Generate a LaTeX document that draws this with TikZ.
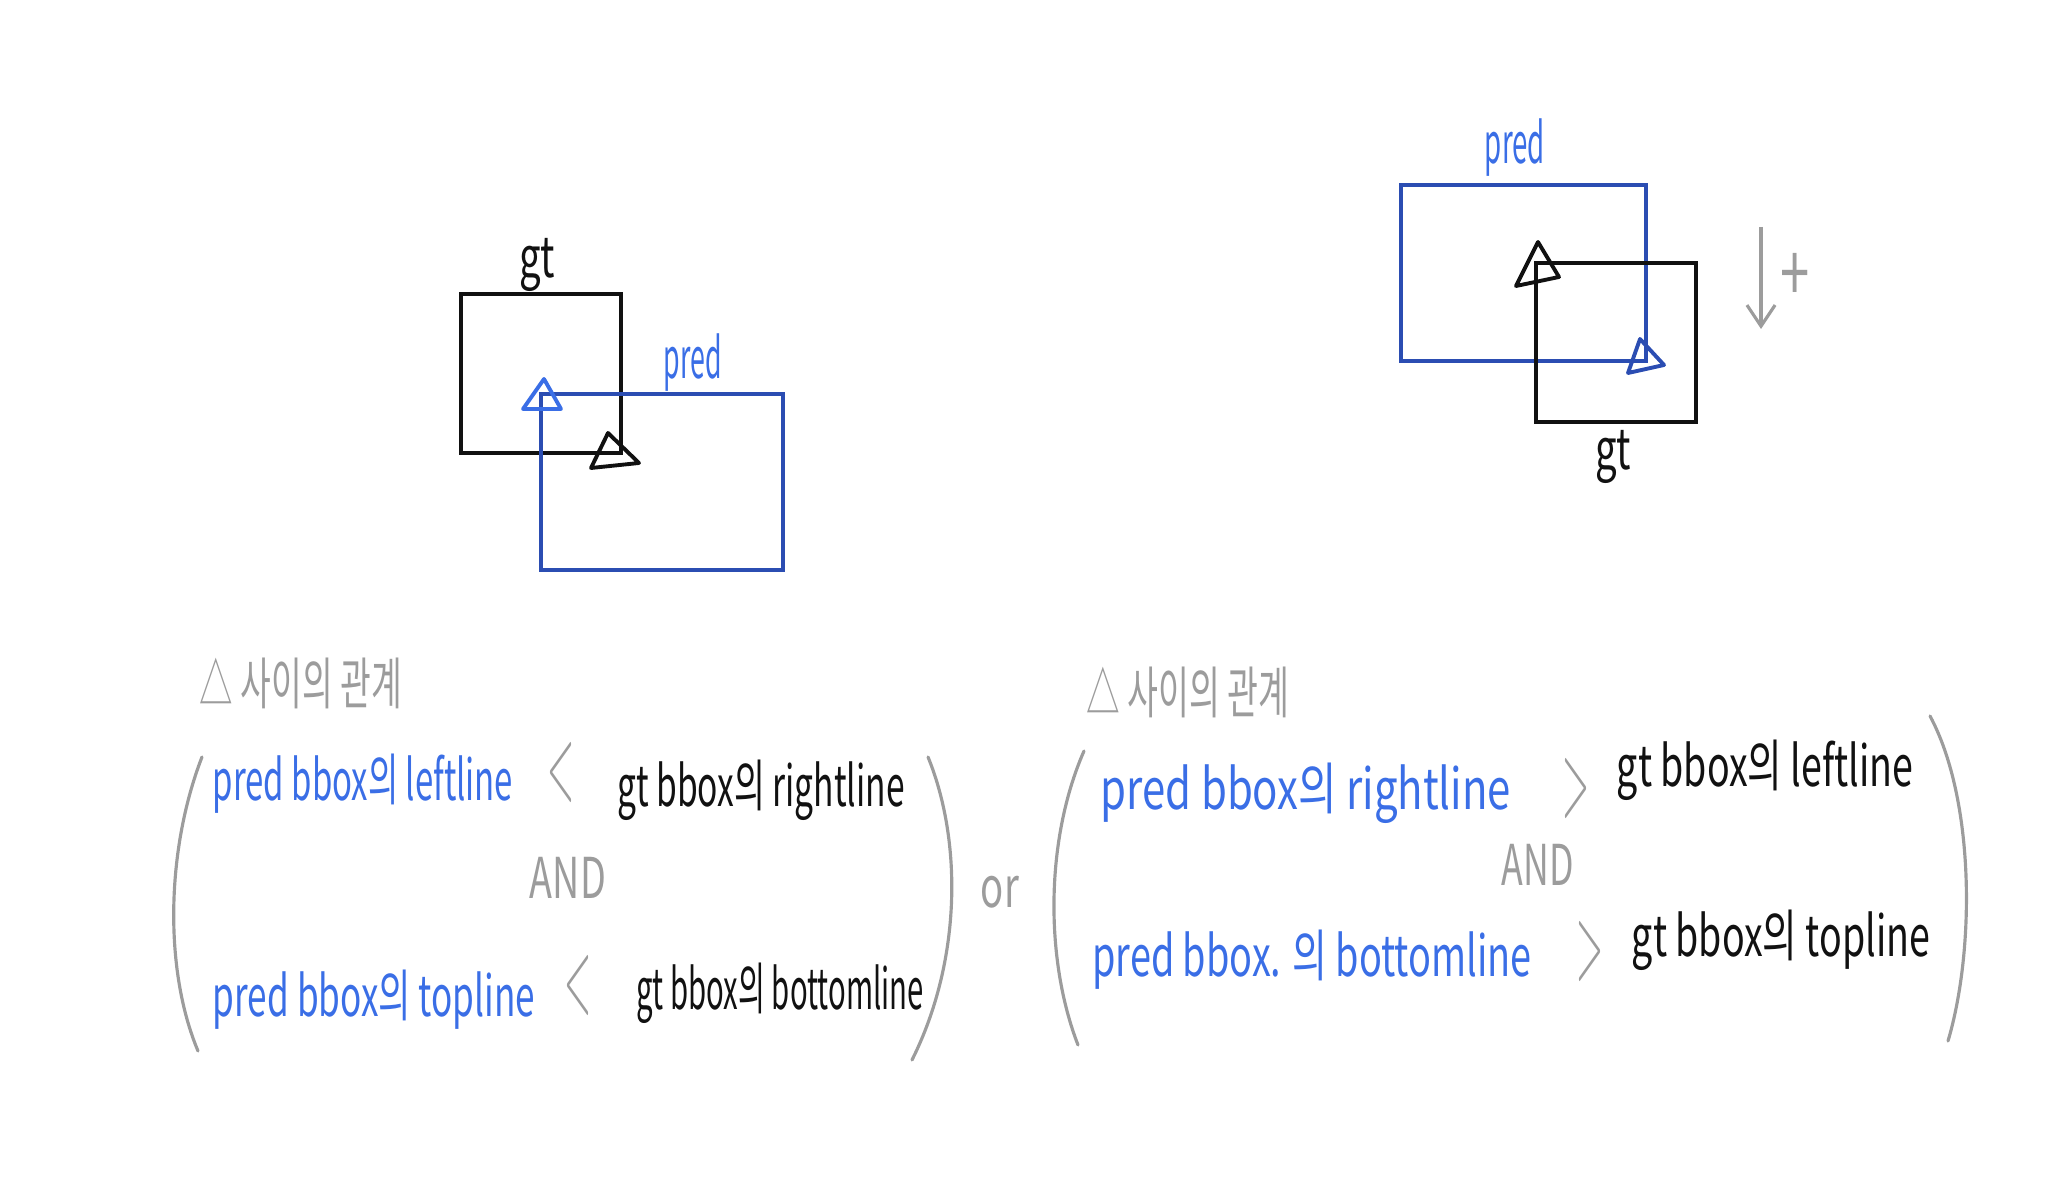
\documentclass[tikz,border=0pt]{standalone}
\usepackage{fontspec}
\setmainfont{Noto Sans CJK KR}
\usepackage{xcolor}
\usetikzlibrary{arrows.meta}
\definecolor{predblue}{HTML}{3A6EE6}
\definecolor{boxblue}{HTML}{2B4DB2}
\definecolor{ink}{HTML}{111111}
\definecolor{pencil}{HTML}{9C9C9C}
\newcommand{\squeeze}[1]{\scalebox{0.68}[1]{#1}}
\newcommand{\handw}[2]{\resizebox{#1}{\height}{#2}}
\newcommand{\cmpsign}[1]{\resizebox{0.27cm}{0.56cm}{$#1$}}

\begin{document}
\begin{tikzpicture}[
    x=0.01cm,y=-0.01cm,
    hand/.style={inner sep=0pt,font=\fontsize{16}{18}\selectfont},
    predtxt/.style={hand,text=predblue},
    gttxt/.style={hand,text=ink},
    note/.style={hand,text=pencil},
    cmp/.style={inner sep=0pt,text=pencil},
    gtline/.style={draw=ink,line width=1.1pt},
    predline/.style={draw=boxblue,line width=1.1pt},
    tri/.style={line width=1.1pt,line join=round,line cap=round},
    paren/.style={draw=pencil,line width=0.9pt,line cap=round},
    arrow/.style={-{Straight Barb[length=6pt,width=8pt]},draw=pencil,line width=0.9pt}
  ]
  \useasboundingbox (0,0) rectangle (2048,1198);
  % case 1: pred overlaps gt from lower right
  \draw[gtline] (461,294) rectangle (621,453);
  \draw[predline] (541,394) rectangle (783,570);
  \draw[tri,predblue] (544,379) -- (561,409) -- (523,409) -- cycle;
  \draw[tri,ink] (608,433) -- (639,463) -- (591,468) -- cycle;
  \node[gttxt] (gtA) at (537,265) {\squeeze{gt}};
  \node[predtxt] (predA) at (693,363) {\handw{0.58cm}{pred}};
  % case 2: pred overlaps gt from upper left
  \draw[predline] (1401,185) rectangle (1646,361);
  \draw[gtline] (1536,263) rectangle (1696,422);
  \draw[tri,ink] (1538,242) -- (1559,277) -- (1516,286) -- cycle;
  \draw[tri,boxblue] (1640,339) -- (1664,365) -- (1628,373) -- cycle;
  \node[predtxt] (predB) at (1515,148) {\handw{0.6cm}{pred}};
  \node[gttxt] (gtB) at (1613,457) {\squeeze{gt}};
  \coordinate (ytop) at (1761,227);
  \coordinate (ybot) at (1761,329);
  \draw[arrow] (ytop) -- (ybot);
  \node[note,font=\fontsize{22}{22}\selectfont] (plus) at (1795,277) {\squeeze{+}};
  % condition 1
  \node[note] (relA) at (301,683) {\handw{2.02cm}{△ 사이의 관계}};
  \node[predtxt] (leftA) at (363,784) {\handw{3.0cm}{pred bbox의 leftline}};
  \node[cmp] (ltA) at (561,773) {\cmpsign{<}};
  \node[gttxt] (rightA) at (761,790) {\handw{2.87cm}{gt bbox의 rightline}};
  \node[note] (andA) at (568,878) {\handw{0.76cm}{AND}};
  \node[predtxt] (topA) at (374,1000) {\handw{3.22cm}{pred bbox의 topline}};
  \node[cmp] (ltB) at (578,986) {\cmpsign{<}};
  \node[gttxt] (bottomA) at (780,993) {\handw{2.87cm}{gt bbox의 bottomline}};
  \draw[paren] (202,757) .. controls (166,850) and (164,970) .. (198,1051);
  \draw[paren] (928,757) .. controls (962,840) and (962,960) .. (912,1060);
  \node[note] (or) at (1000,892) {\squeeze{or}};
  % condition 2
  \node[note] (relB) at (1188,692) {\handw{2.03cm}{△ 사이의 관계}};
  \node[predtxt] (rightB) at (1306,793) {\handw{4.1cm}{pred bbox의 rightline}};
  \node[cmp] (gtC) at (1576,789) {\cmpsign{>}};
  \node[gttxt] (leftB) at (1765,770) {\handw{2.96cm}{gt bbox의 leftline}};
  \node[note] (andB) at (1538,865) {\handw{0.72cm}{AND}};
  \node[predtxt] (bottomB) at (1312,960) {\handw{4.39cm}{pred bbox. 의 bottomline}};
  \node[cmp] (gtD) at (1590,952) {\cmpsign{>}};
  \node[gttxt] (topB) at (1781,940) {\handw{2.98cm}{gt bbox의 topline}};
  \draw[paren] (1084,751) .. controls (1045,840) and (1045,960) .. (1078,1045);
  \draw[paren] (1930,716) .. controls (1975,800) and (1975,950) .. (1948,1041);
\end{tikzpicture}
\end{document}
